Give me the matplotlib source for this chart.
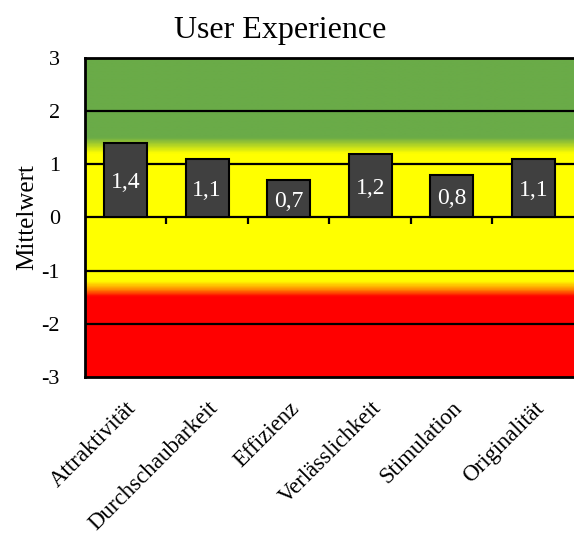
import numpy as np
import matplotlib
matplotlib.use("Agg")
import matplotlib.pyplot as plt
from matplotlib.colors import LinearSegmentedColormap

plt.rcParams['font.family'] = ['Liberation Serif', 'DejaVu Serif']
plt.rcParams['axes.unicode_minus'] = False

categories = ["Attraktivität", "Durchschaubarkeit", "Effizienz",
              "Verlässlichkeit", "Stimulation", "Originalität"]
values = [1.4, 1.1, 0.7, 1.2, 0.8, 1.1]
labels = ["1,4", "1,1", "0,7", "1,2", "0,8", "1,1"]

green = "#6AAB48"
yellow = "#FFFF00"
red = "#FF0000"

fig = plt.figure(figsize=(5.74, 5.4), dpi=100)
ax = fig.add_axes([0.148, 0.302, 0.852, 0.591])

n = len(categories)
x = np.arange(n)

# background gradient: red (bottom) -> yellow -> green (top), by value
vmin, vmax = -3, 3
stops = [(-3, red), (-1.5, red), (-1.35, "#FF9900"), (-1.2, yellow),
         (1.2, yellow), (1.5, green), (3, green)]
cmap = LinearSegmentedColormap.from_list(
    "ux", [((v - vmin) / (vmax - vmin), c) for v, c in stops])
grad = np.linspace(vmin, vmax, 600).reshape(-1, 1)
ax.imshow(grad, extent=[-0.5, n - 0.5, vmin, vmax], origin="lower",
          aspect="auto", cmap=cmap, vmin=vmin, vmax=vmax, zorder=0)

for g in [-2, -1, 1, 2]:
    ax.axhline(g, color="black", lw=1.6, zorder=1)
ax.axhline(0, color="black", lw=1.6, zorder=1)

# category separator ticks on the zero line
bounds = np.arange(n - 1) + 0.5
ax.vlines(bounds, -0.12, 0, color="black", lw=1.6, zorder=1)

ax.bar(x, values, width=0.53, color="#404040", edgecolor="black",
       linewidth=1.5, zorder=2)
for xi, v, lab in zip(x, values, labels):
    ax.text(xi, v / 2 - 0.05, lab, color="white", ha="center", va="center",
            fontsize=17, zorder=3)

ax.set_xlim(-0.5, n - 0.5)
ax.set_ylim(vmin, vmax)
ax.set_yticks(range(-3, 4))
ax.tick_params(axis="y", length=0, labelsize=16, pad=18)
ax.set_xticks(x)
ax.set_xticklabels(categories, rotation=45, ha="right",
                   rotation_mode="anchor", fontsize=16.5)
ax.tick_params(axis="x", length=0, pad=15)

for s in ["left", "top", "bottom"]:
    ax.spines[s].set_linewidth(2)
ax.spines["right"].set_visible(False)

ax.set_ylabel("Mittelwert", fontsize=18, labelpad=2)
fig.text(0.488, 1 - 38 / 540, "User Experience", fontsize=23,
         ha="center", va="baseline")

fig.savefig("out.png", dpi=100)
